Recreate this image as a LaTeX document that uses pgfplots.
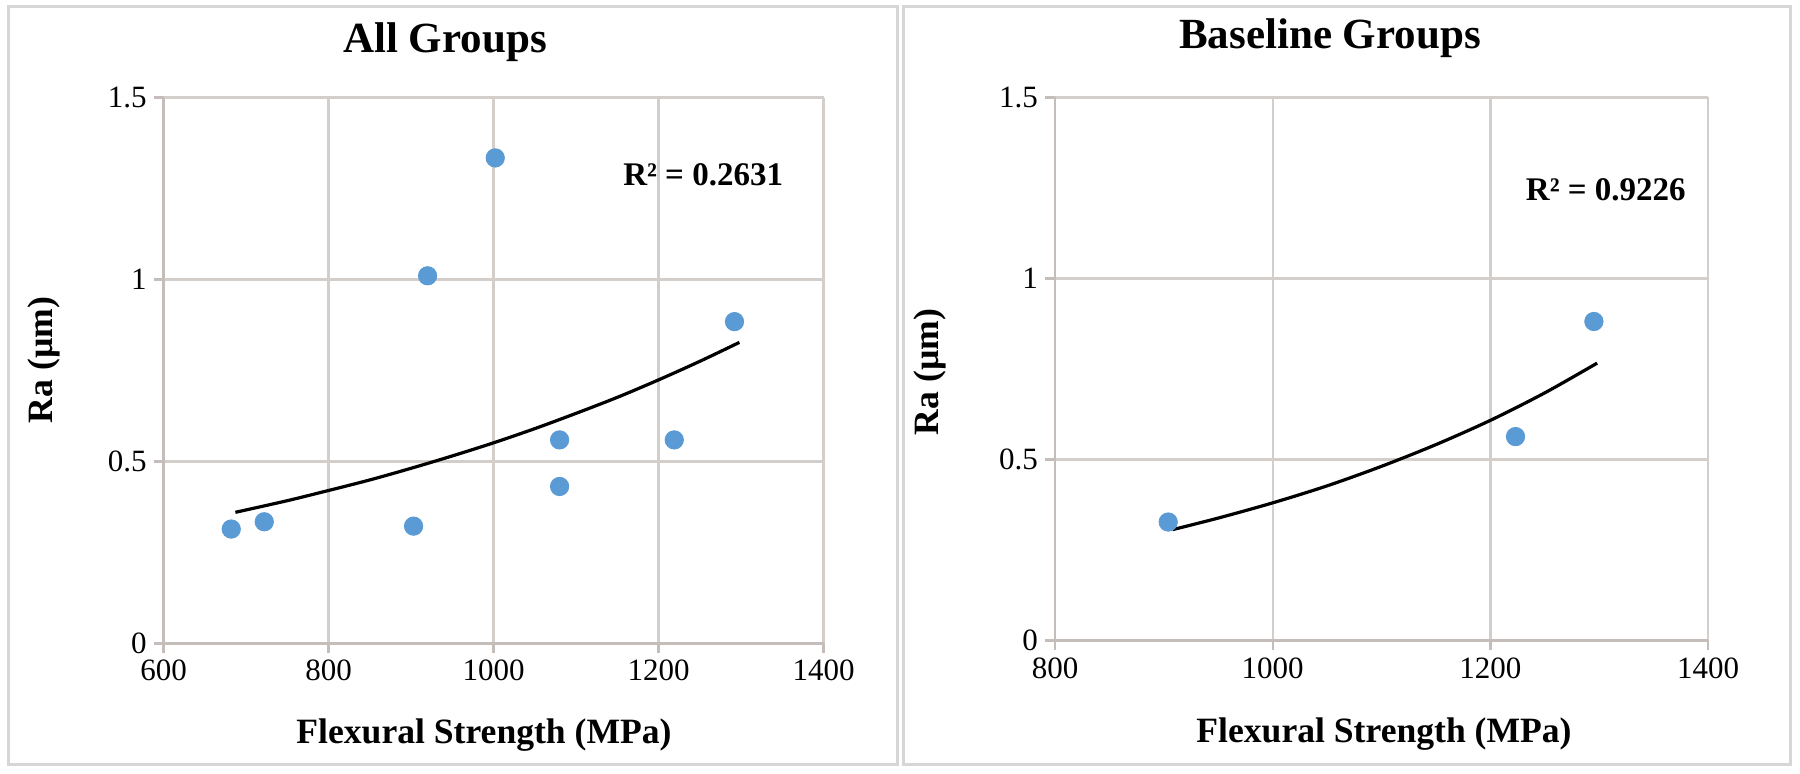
\documentclass[border=0pt]{standalone}
\usepackage{fontspec}
\setmainfont{Liberation Serif}
\usepackage{pgfplots}
\pgfplotsset{compat=1.18}
\definecolor{gridc}{RGB}{212,206,203}
\definecolor{axc}{RGB}{196,189,186}
\definecolor{ptblue}{RGB}{91,155,213}
\definecolor{framec}{RGB}{214,214,214}

\pgfplotsset{myax/.style={
  scale only axis, anchor=south west,
  axis x line*=bottom, axis y line*=left,
  axis line style={draw=axc, line width=1.2pt, -},
  grid=major, major grid style={draw=gridc, line width=1.2pt},
  tick align=outside, major tick length=5pt,
  tick style={draw=axc, line width=1.2pt},
  ymin=0, ymax=1.5, ytick={0,0.5,1,1.5},
  yticklabels={0,0.5,1,1.5},
  tick label style={font=\fontsize{15.5}{17}\selectfont},
  /pgf/number format/assume math mode=true,
  /pgf/number format/1000 sep={},
  clip=false,
}}

\begin{document}
\begin{tikzpicture}[x=1pt,y=1pt]
\path[fill=white] (0,0) rectangle (900,386.5);
\draw[framec, line width=1.5pt] (4,4.5) rectangle (448.5,383);
\draw[framec, line width=1.5pt] (451.5,4.5) rectangle (895,383);

% Left: All Groups
\begin{axis}[myax, at={(81.8pt,64.85pt)}, width=330pt, height=272.9pt,
  xmin=600, xmax=1400, xtick={600,800,1000,1200,1400}]
\addplot[only marks, mark=*, mark size=4.6pt, mark options={draw=ptblue, fill=ptblue}]
 coordinates {(682,0.314) (722,0.334) (903,0.322) (920,1.010) (1002,1.334)
 (1080,0.559) (1080,0.431) (1219,0.559) (1292,0.884)};
\addplot[black, line width=1.6pt, smooth, no marks] coordinates {
 (687,0.360) (750,0.392) (800,0.420) (850,0.449) (900,0.481) (950,0.515)
 (1000,0.551) (1050,0.590) (1100,0.632) (1150,0.676) (1200,0.724)
 (1250,0.775) (1298,0.827)};
\node[font=\bfseries\fontsize{16.5}{19}\selectfont] at (axis cs:1254,1.287) {R² = 0.2631};
\end{axis}

% Right: Baseline Groups
\begin{axis}[myax, at={(527.5pt,66.3pt)}, width=326.6pt, height=271.5pt,
  xmin=800, xmax=1400, xtick={800,1000,1200,1400}]
\addplot[only marks, mark=*, mark size=4.6pt, mark options={draw=ptblue, fill=ptblue}]
 coordinates {(904,0.327) (1223,0.563) (1295,0.881)};
\addplot[black, line width=1.6pt, smooth, no marks] coordinates {
 (908,0.306) (950,0.338) (1000,0.380) (1050,0.427) (1100,0.481)
 (1150,0.541) (1200,0.608) (1250,0.684) (1298,0.766)};
\node[font=\bfseries\fontsize{16.5}{19}\selectfont] at (axis cs:1306,1.245) {R² = 0.9226};
\end{axis}

\node[font=\bfseries\fontsize{21.5}{24}\selectfont] at (222.5,365.5) {All Groups};
\node[font=\bfseries\fontsize{21.5}{24}\selectfont] at (665,367.5) {Baseline Groups};
\node[font=\bfseries\fontsize{17.8}{20}\selectfont] at (242,19) {Flexural Strength (MPa)};
\node[font=\bfseries\fontsize{17.8}{20}\selectfont] at (692,19.5) {Flexural Strength (MPa)};
\node[font=\bfseries\fontsize{17.8}{20}\selectfont, rotate=90] at (22,206.5) {Ra (µm)};
\node[font=\bfseries\fontsize{17.8}{20}\selectfont, rotate=90] at (465,200.5) {Ra (µm)};
\end{tikzpicture}
\end{document}
